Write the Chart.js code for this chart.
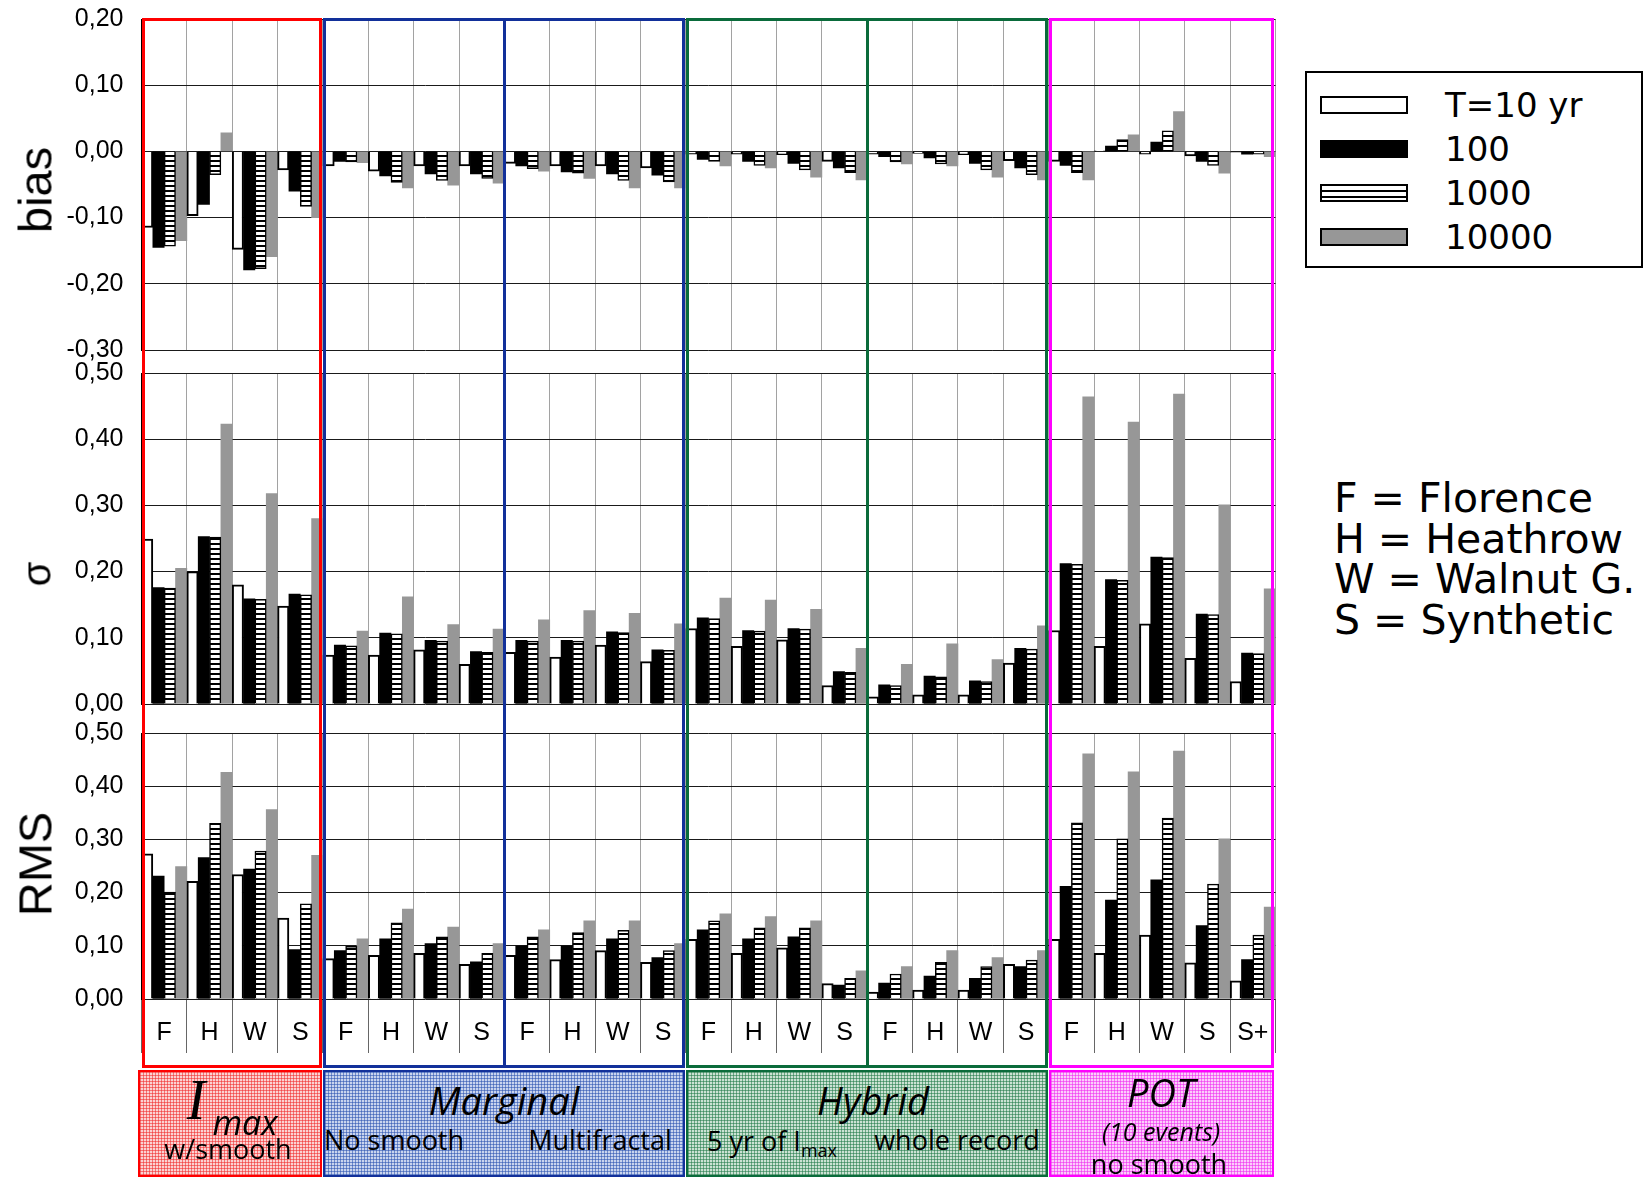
<!DOCTYPE html>
<html>
<head>
<meta charset="utf-8">
<script src="https://cdn.jsdelivr.net/npm/chart.js@4.4.1/dist/chart.umd.min.js"></script>
<style>
  body { margin: 0; background: #fff; width: 1646px; height: 1178px; position: relative; overflow: hidden; }
  canvas.cv { position: absolute; left: 0; }
  .ytitle { position: absolute; font-family: "Liberation Sans", Arial, sans-serif; color: #000; transform: translate(-50%, -50%) rotate(-90deg); white-space: nowrap; }
  .box { position: absolute; box-sizing: border-box; border: 3px solid; }
  .split { position: absolute; width: 3px; }
  .lab { position: absolute; box-sizing: border-box; border: 2.5px solid; }
  .t { position: absolute; font-family: "Open Sans", sans-serif; color: #000; white-space: nowrap; line-height: 1; }
  .c { transform: translate(-50%, -50%); }
  .it { font-style: italic; }
  .serif { font-family: "Liberation Serif", serif; }
  #legend { position: absolute; left: 1305px; top: 71px; width: 338px; height: 197px; box-sizing: border-box; border: 2px solid #000; }
  .lrow { position: absolute; left: 13px; height: 40px; display: flex; align-items: center; }
  .sw { width: 88px; height: 18px; box-sizing: border-box; }
  .ltxt { position: absolute; left: 125px; font-family: "DejaVu Sans", sans-serif; font-size: 34px; white-space: nowrap; }
  #key { position: absolute; left: 1334px; top: 478px; font-family: "DejaVu Sans", sans-serif; font-size: 41px; line-height: 40.6px; }
</style>
</head>
<body>
<canvas id="cBias" class="cv" style="top:0" width="1290" height="365"></canvas>
<canvas id="cSigma" class="cv" style="top:358px" width="1290" height="361"></canvas>
<canvas id="cRms" class="cv" style="top:718px" width="1290" height="337"></canvas>

<div class="ytitle" style="left:35px; top:190px; font-size:47px;">bias</div>
<div class="ytitle" style="left:37px; top:574px; font-size:40px;">σ</div>
<div class="ytitle" style="left:35px; top:864px; font-size:47px;">RMS</div>

<div id="overlay"></div>
<div id="legend"></div>
<div id="key">F = Florence<br>H = Heathrow<br>W = Walnut G.<br>S = Synthetic</div>

<script>
// categories: 5 method blocks, F/H/W/S per block (+ S+ for POT)
const categories = ['F', 'H', 'W', 'S', 'F', 'H', 'W', 'S', 'F', 'H', 'W', 'S',
                    'F', 'H', 'W', 'S', 'F', 'H', 'W', 'S', 'F', 'H', 'W', 'S', 'S+'];
const series = ['T=10 yr', '100', '1000', '10000'];

// bias
const bias10    = [-0.115, -0.097, -0.148, -0.028, -0.022, -0.030, -0.022, -0.022, -0.018, -0.022, -0.022, -0.025,
                   -0.004, -0.004, -0.005, -0.015, -0.004, -0.003, -0.005, -0.014, -0.015, 0.001, -0.004, -0.007, -0.001];
const bias100   = [-0.145, -0.080, -0.179, -0.060, -0.015, -0.037, -0.034, -0.034, -0.022, -0.031, -0.034, -0.036,
                   -0.012, -0.015, -0.018, -0.025, -0.008, -0.010, -0.018, -0.025, -0.021, 0.008, 0.014, -0.015, -0.004];
const bias1000  = [-0.143, -0.035, -0.177, -0.083, -0.016, -0.047, -0.044, -0.041, -0.026, -0.033, -0.044, -0.046,
                   -0.015, -0.021, -0.028, -0.032, -0.016, -0.019, -0.028, -0.035, -0.032, 0.018, 0.031, -0.021, -0.004];
const bias10000 = [-0.135, 0.028, -0.159, -0.100, -0.017, -0.055, -0.051, -0.048, -0.030, -0.041, -0.055, -0.055,
                   -0.022, -0.025, -0.039, -0.043, -0.019, -0.022, -0.039, -0.043, -0.043, 0.025, 0.060, -0.033, -0.008];

// sigma
const sigma10    = [0.249, 0.200, 0.180, 0.148, 0.074, 0.074, 0.082, 0.060, 0.078, 0.071, 0.089, 0.064,
                    0.114, 0.087, 0.097, 0.028, 0.011, 0.014, 0.014, 0.062, 0.111, 0.087, 0.121, 0.069, 0.034];
const sigma100   = [0.176, 0.253, 0.159, 0.166, 0.089, 0.107, 0.096, 0.079, 0.096, 0.096, 0.109, 0.082,
                    0.130, 0.111, 0.114, 0.049, 0.029, 0.042, 0.035, 0.084, 0.212, 0.188, 0.222, 0.136, 0.077];
const sigma1000  = [0.175, 0.252, 0.158, 0.165, 0.088, 0.106, 0.095, 0.078, 0.095, 0.095, 0.108, 0.081,
                    0.129, 0.110, 0.113, 0.048, 0.028, 0.041, 0.034, 0.083, 0.211, 0.187, 0.221, 0.135, 0.076];
const sigma10000 = [0.205, 0.423, 0.318, 0.280, 0.110, 0.162, 0.120, 0.113, 0.127, 0.141, 0.137, 0.121,
                    0.160, 0.157, 0.143, 0.084, 0.060, 0.091, 0.067, 0.118, 0.464, 0.426, 0.468, 0.301, 0.174];

// RMS
const rms10    = [0.273, 0.221, 0.234, 0.152, 0.076, 0.082, 0.086, 0.065, 0.082, 0.074, 0.091, 0.069,
                  0.112, 0.086, 0.096, 0.029, 0.013, 0.017, 0.017, 0.065, 0.112, 0.086, 0.120, 0.068, 0.034];
const rms100   = [0.231, 0.266, 0.244, 0.093, 0.091, 0.113, 0.104, 0.070, 0.100, 0.100, 0.113, 0.078,
                  0.130, 0.113, 0.117, 0.026, 0.030, 0.043, 0.039, 0.061, 0.212, 0.186, 0.224, 0.138, 0.074];
const rms1000  = [0.201, 0.330, 0.278, 0.179, 0.099, 0.143, 0.117, 0.086, 0.117, 0.125, 0.129, 0.091,
                  0.147, 0.134, 0.134, 0.039, 0.047, 0.069, 0.061, 0.073, 0.331, 0.301, 0.340, 0.216, 0.120];
const rms10000 = [0.249, 0.426, 0.356, 0.270, 0.113, 0.169, 0.135, 0.104, 0.130, 0.147, 0.147, 0.104,
                  0.160, 0.155, 0.147, 0.053, 0.061, 0.091, 0.078, 0.091, 0.461, 0.427, 0.466, 0.301, 0.173];

const biasTicks  = [0.2, 0.1, 0, -0.1, -0.2, -0.3];
const sigmaTicks = [0.5, 0.4, 0.3, 0.2, 0.1, 0];
const rmsTicks   = [0.5, 0.4, 0.3, 0.2, 0.1, 0];

// method blocks along the x axis (category index ranges)
const groups = [
  { start: 0,  count: 4, split: null, color: '#ff0000', tint: '#fbd2d2', mesh: 'rgba(240,40,40,0.55)' },
  { start: 4,  count: 8, split: 8,    color: '#12309a', tint: '#c9d4ee', mesh: 'rgba(40,80,175,0.55)' },
  { start: 12, count: 8, split: 16,   color: '#0a6b3b', tint: '#cbe2d3', mesh: 'rgba(30,120,70,0.55)' },
  { start: 20, count: 5, split: null, color: '#ff00ff', tint: '#fbcdfb', mesh: 'rgba(240,40,240,0.55)' }
];

// horizontal-stripe fill for the 1000-yr bars
function stripes() {
  const c = document.createElement('canvas');
  c.width = 4; c.height = 5;
  const g = c.getContext('2d');
  g.fillStyle = '#fff'; g.fillRect(0, 0, 4, 5);
  g.fillStyle = '#000'; g.fillRect(0, 0, 4, 2);
  return g.createPattern(c, 'repeat');
}

const barStyles = [
  { backgroundColor: '#fff', borderColor: '#000', borderWidth: 2 },
  { backgroundColor: '#000', borderWidth: 0 },
  { backgroundColor: stripes(), borderColor: '#000', borderWidth: 1.5 },
  { backgroundColor: '#979797', borderWidth: 0 }
];

const tickFont = { family: "'Liberation Sans', Arial, sans-serif", size: 25 };

function makeChart(id, values, ticks, pad, showX) {
  return new Chart(document.getElementById(id), {
    type: 'bar',
    data: {
      labels: categories,
      datasets: series.map((s, i) => Object.assign({ label: s, data: values[i] }, barStyles[i]))
    },
    options: {
      responsive: false,
      animation: false,
      devicePixelRatio: 1,
      layout: { padding: { top: pad[0], bottom: pad[1], left: 0, right: 14.5 } },
      datasets: { bar: { categoryPercentage: 1, barPercentage: 1 } },
      plugins: { legend: { display: false }, tooltip: { enabled: false } },
      scales: {
        x: {
          offset: true,
          grid: { offset: true, color: '#a2a2a2', drawTicks: showX, tickLength: 54, tickColor: '#666' },
          border: { display: false },
          ticks: { display: showX, padding: -34.4, font: tickFont, color: '#000' },
          afterFit: s => { s.height = showX ? 56 : 0; s.paddingLeft = 0; s.paddingRight = 0; }
        },
        y: {
          min: Math.min(...ticks),
          max: Math.max(...ticks),
          afterBuildTicks: s => { s.ticks = ticks.map(v => ({ value: v })); },
          grid: { color: '#1a1a1a', drawTicks: false },
          border: { color: '#000' },
          ticks: {
            padding: 18, font: tickFont, color: '#000',
            callback: v => Number(v).toFixed(2).replace('.', ',')
          },
          // fixed axis box so the plot area lines up across the three panels
          afterFit: s => { s.width = 141.5; s.paddingTop = 0; s.paddingBottom = 0; }
        }
      }
    }
  });
}

const biasChart  = makeChart('cBias',  [bias10, bias100, bias1000, bias10000], biasTicks, [19, 15], false);
const sigmaChart = makeChart('cSigma', [sigma10, sigma100, sigma1000, sigma10000], sigmaTicks, [15, 15], false);
const rmsChart   = makeChart('cRms',   [rms10, rms100, rms1000, rms10000], rmsTicks, [15, 0], true);

// coloured method frames and label boxes, placed from the category scale
const xs = rmsChart.scales.x;
const catW = (xs.right - xs.left) / categories.length;
const edge = i => xs.left + i * catW;
const overlay = document.getElementById('overlay');
const frameTop = biasChart.chartArea.top - 1;
const frameBottom = 1068;

groups.forEach(g => {
  const left = edge(g.start);
  const width = edge(g.start + g.count) - left - 1;

  const box = document.createElement('div');
  box.className = 'box';
  Object.assign(box.style, { left: left + 'px', top: frameTop + 'px', width: width + 'px',
    height: (frameBottom - frameTop) + 'px', borderColor: g.color });
  overlay.appendChild(box);

  if (g.split !== null) {
    const sp = document.createElement('div');
    sp.className = 'split';
    Object.assign(sp.style, { left: (edge(g.split) - 1) + 'px', top: frameTop + 'px',
      height: (frameBottom - frameTop) + 'px', background: g.color });
    overlay.appendChild(sp);
  }

  const lab = document.createElement('div');
  lab.className = 'lab';
  Object.assign(lab.style, { left: (left - (g.start === 0 ? 4 : 0)) + 'px', top: '1070px',
    width: (width + (g.start === 0 ? 4 : 0)) + 'px', height: '107px', borderColor: g.color,
    background: `repeating-linear-gradient(0deg, ${g.mesh} 0 1px, transparent 1px 3px),
                 repeating-linear-gradient(90deg, ${g.mesh} 0 1px, transparent 1px 3px), ${g.tint}` });
  overlay.appendChild(lab);
});

// text inside the label boxes
const labelTexts = [
  ['I', 'c it serif', 196, 1100, 56], ['max', 'c it', 245, 1122, 34], ['w/smooth', 'c', 228, 1148, 27],
  ['Marginal', 'c it', 504, 1100, 38], ['No smooth', 'c', 394, 1139, 27], ['Multifractal', 'c', 600, 1139, 27],
  ['Hybrid', 'c it', 873, 1100, 38], ['5 yr of I<sub style="font-size:18px">max</sub>', 'c', 772, 1143, 27],
  ['whole record', 'c', 957, 1139, 27],
  ['POT', 'c it', 1161, 1092, 38], ['(10 events)', 'c it', 1161, 1131, 25], ['no smooth', 'c', 1159, 1163, 27]
];
labelTexts.forEach(([txt, cls, x, y, size]) => {
  const d = document.createElement('div');
  d.className = 't ' + cls;
  d.innerHTML = txt;
  Object.assign(d.style, { left: x + 'px', top: y + 'px', fontSize: size + 'px' });
  overlay.appendChild(d);
});

// legend
const swatchCss = [
  'background:#fff;border:2px solid #000',
  'background:#000',
  'border:2px solid #000;background:repeating-linear-gradient(180deg,#fff 0 4px,#000 4px 6px)',
  'background:#979797;border:2px solid #000'
];
const legend = document.getElementById('legend');
series.forEach((s, i) => {
  const row = document.createElement('div');
  row.className = 'lrow';
  row.style.top = (12 + i * 44) + 'px';
  row.innerHTML = `<div class="sw" style="${swatchCss[i]}"></div><div class="ltxt">${s}</div>`;
  legend.appendChild(row);
});
</script>
</body>
</html>
